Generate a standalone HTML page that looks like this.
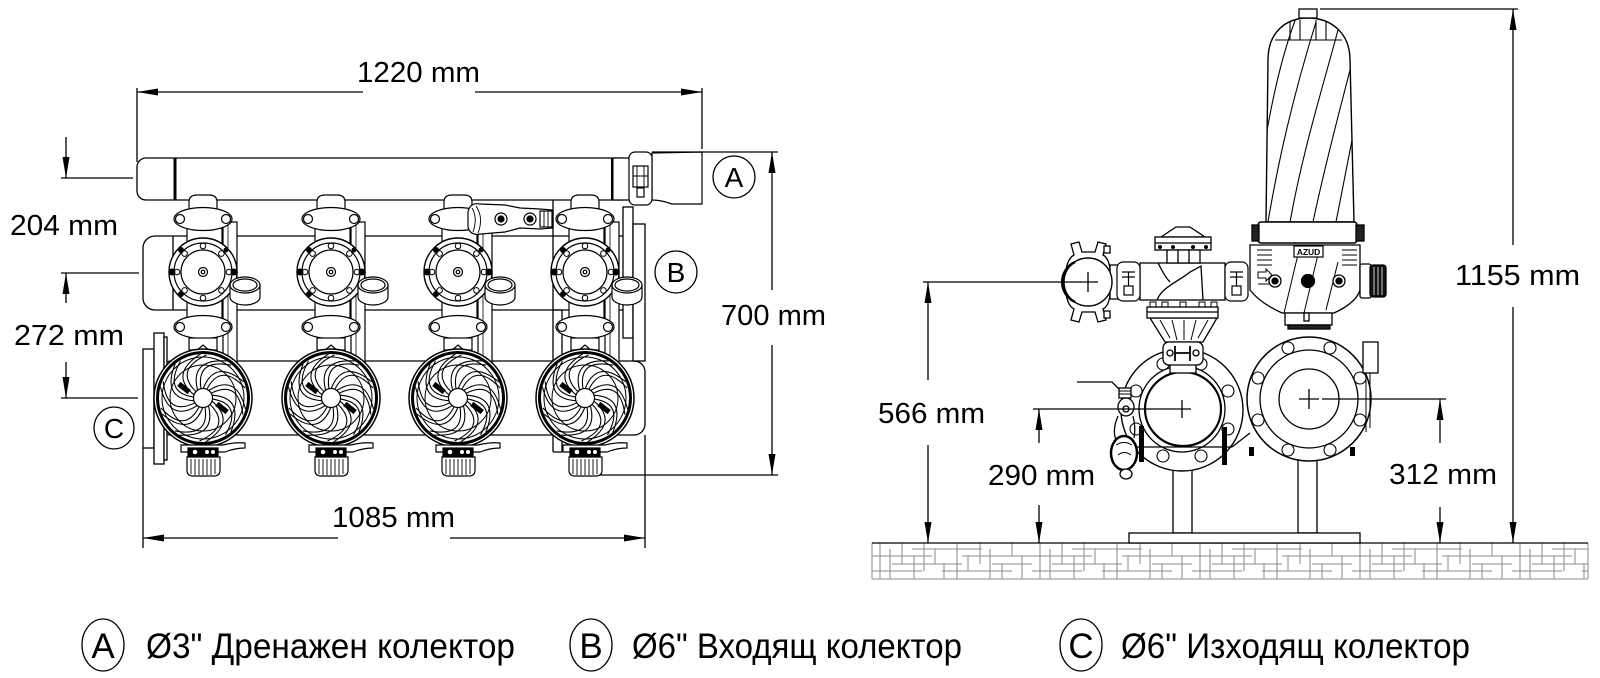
<!DOCTYPE html>
<html><head><meta charset="utf-8"><style>
html,body{margin:0;padding:0;background:#fff;}
svg{display:block;}
text{font-family:"Liberation Sans",Arial,sans-serif;fill:#000;stroke:none;}
</style></head><body>
<svg width="1600" height="678" viewBox="0 0 1600 678" xmlns="http://www.w3.org/2000/svg">
<defs>
 <pattern id="hatch" patternUnits="userSpaceOnUse" x="872" y="543" width="160" height="36">
  <path d="M40,6H110 M0,13H60 M90,13H160 M20,21H90 M120,21H160 M0,28H50 M70,28H140 M8,0V36 M18,6V36 M30,0V21 M42,13V36 M52,0V28 M63,6V21 M72,21V36 M85,0V36 M96,13V28 M108,0V21 M118,6V36 M130,21V36 M140,0V13 M150,13V36" stroke="#8a8a8a" stroke-width="1" fill="none"/>
 </pattern>
 <g id="blade" fill="none" stroke="#000" stroke-width="1.1">
  <path d="M0,-9 Q12,-40 41,-16"/>
  <path d="M4,-9 Q18,-36 42,-10"/>
 </g>
 <g id="head" stroke="#000">
  <circle r="49" fill="#fff" stroke-width="1.5"/>
  <circle r="45.5" fill="none" stroke-width="3"/>
  <circle r="41" fill="none" stroke-width="1"/>
  <circle r="33" fill="none" stroke-width="1"/>
  <use href="#blade"/>
  <use href="#blade" transform="rotate(36)"/>
  <use href="#blade" transform="rotate(72)"/>
  <use href="#blade" transform="rotate(108)"/>
  <use href="#blade" transform="rotate(144)"/>
  <use href="#blade" transform="rotate(180)"/>
  <use href="#blade" transform="rotate(216)"/>
  <use href="#blade" transform="rotate(252)"/>
  <use href="#blade" transform="rotate(288)"/>
  <use href="#blade" transform="rotate(324)"/>
  <circle r="9.5" fill="#fff" stroke-width="1.2"/>
  <rect x="-6" y="-2" width="12" height="4" transform="translate(-19,-10) rotate(38)" fill="#000"/>
  <rect x="-6" y="-2" width="12" height="4" transform="translate(19,10) rotate(38)" fill="#000"/>
 </g>
 <g id="unit" stroke="#000" stroke-width="1.2" fill="#fff">
  <rect x="20" y="222" width="14" height="140"/>
  <line x1="25" y1="222" x2="25" y2="362" stroke-width="0.8"/>
  <rect x="-16" y="226" width="35" height="100"/>
  <path d="M-14,210 L-14,202 Q-14,195 -6,195 L6,195 Q14,195 14,202 L14,210 Z"/>
  <ellipse cx="0" cy="219" rx="29" ry="11.5"/>
  <circle cx="-23" cy="219" r="4.5"/>
  <circle cx="23" cy="219" r="4.5"/>
  <circle cx="0" cy="272" r="34" stroke-width="1.4"/>
  <circle cx="0" cy="272" r="29"/>
  <circle cx="0" cy="272" r="22"/>
  <g stroke-width="1">
   <circle cx="26" cy="272" r="2.8"/><circle cx="18.4" cy="290.4" r="2.8"/><circle cx="0" cy="298" r="2.8"/><circle cx="-18.4" cy="290.4" r="2.8"/>
   <circle cx="-26" cy="272" r="2.8"/><circle cx="-18.4" cy="253.6" r="2.8"/><circle cx="0" cy="246" r="2.8"/><circle cx="18.4" cy="253.6" r="2.8"/>
  </g>
  <g fill="#000" stroke="none">
   <circle cx="-31" cy="272" r="3.5"/><circle cx="31" cy="272" r="3.5"/>
   <circle cx="-22" cy="250" r="3"/><circle cx="-22" cy="294" r="3"/><circle cx="23" cy="250" r="2.5"/>
  </g>
  <circle cx="0" cy="272" r="4.5"/>
  <circle cx="0" cy="272" r="1.8"/>
  <path d="M27,285 L27,297 A15,8 0 0 0 57,297 L57,285"/>
  <ellipse cx="42" cy="285" rx="15" ry="8"/>
  <ellipse cx="42" cy="285" rx="12" ry="6"/>
  <ellipse cx="0" cy="327" rx="29" ry="11.5"/>
  <circle cx="-23" cy="327" r="4.5"/>
  <circle cx="23" cy="327" r="4.5"/>
  <rect x="-14" y="338" width="28" height="12"/>
  <path d="M-7,351 L0,345 L7,351" fill="none"/>
  <use href="#head" transform="translate(0,398)"/>
  <path d="M-22,445 L20,445 Q32,442 42,443 L42,448 Q32,448 22,452 L-22,452 Z"/>
  <rect x="-15" y="448" width="30" height="9" fill="#000"/>
  <circle cx="-8" cy="452" r="2.3" fill="#fff" stroke="none"/>
  <circle cx="4" cy="452" r="2" fill="#fff" stroke="none"/>
  <circle cx="10" cy="452" r="2" fill="#fff" stroke="none"/>
  <path d="M-16,457 L17,457 L17,470 Q17,476 11,476 L-10,476 Q-16,476 -16,470 Z"/>
  <path d="M-12,459V474 M-8,459V475 M-4,459V475 M0,459V475 M4,459V475 M8,459V475 M12,459V474" fill="none" stroke-width="0.9"/>
 </g>
 <g id="coup" stroke="#000" stroke-width="1.2" fill="#fff">
  <rect x="0" y="0" width="23" height="39" rx="6"/>
  <path d="M5,10H18 M5,15H18 M11.5,10V26" fill="none"/>
  <rect x="7" y="24" width="9" height="9"/>
 </g>
</defs>

<!-- ================= LEFT VIEW ================= -->
<g stroke="#000" stroke-width="1.3" fill="#fff">
 <!-- pipe A -->
 <rect x="137" y="158" width="495" height="42" rx="9"/>
 <rect x="173.5" y="158" width="3" height="42" fill="#000" stroke="none"/>
 <rect x="611" y="158" width="2.5" height="42" fill="#000" stroke="none"/>
 <!-- pipe B -->
 <rect x="143" y="236" width="490" height="74" rx="12"/>
 <line x1="173" y1="236" x2="173" y2="310"/>
 <!-- pipe C -->
 <rect x="160" y="361" width="485" height="74" rx="11"/>
 <rect x="143" y="349" width="11" height="99"/>
 <rect x="154" y="333" width="10" height="131"/>
 <rect x="164" y="337" width="3" height="123"/>
 <!-- right flange of B -->
 <rect x="623" y="207" width="10" height="131"/>
 <rect x="633" y="224" width="12" height="137"/>
 <!-- frame behind unit 4 -->
 <path d="M553,200V452 M562,310V452 M553,452H562 M553,310H562" fill="none"/>
</g>

<use href="#unit" transform="translate(203,0)"/>
<use href="#unit" transform="translate(331,0)"/>
<use href="#unit" transform="translate(458,0)"/>
<use href="#unit" transform="translate(585,0)"/>

<g stroke="#000" stroke-width="1.2" fill="#fff">
 <!-- 3-way hydraulic valve -->
 <path d="M480,204 Q470,202 468,212 L468,227 Q470,236 481,234 L505,232 L520,228 L540,229 L553,228 L553,210 L540,209 L520,208 L505,205 Z"/>
 <path d="M472,208 Q478,218 473,232 M476,206 Q484,218 478,233" fill="none" stroke-width="0.9"/>
 <circle cx="501" cy="219" r="6"/><circle cx="501" cy="219" r="3" fill="#000"/>
 <circle cx="530" cy="219" r="6"/><circle cx="530" cy="219" r="3" fill="#000"/>
 <rect x="540" y="211" width="12" height="16"/>
 <path d="M544,211V227 M548,211V227" fill="none" stroke-width="0.9"/>
 <!-- coupling & reducer of pipe A -->
 <rect x="613.5" y="158" width="16" height="42" stroke="none"/>
 <line x1="613" y1="158" x2="630" y2="158"/>
 <line x1="613" y1="200" x2="630" y2="200"/>
 <path d="M652,153 L702,152 L702,204 L672,204 Q661,200 652,200 Z"/>
 <rect x="629" y="152" width="23" height="53" rx="6"/>
 <rect x="633" y="166" width="15" height="21"/>
 <path d="M637,166V187 M644,166V187 M633,176H648" fill="none" stroke-width="0.9"/>
 <rect x="637" y="188" width="7" height="9"/>
</g>

<!-- left view dimensions -->
<g stroke="#000" stroke-width="1.3" fill="none">
 <path d="M137,88V162 M702,88V149 M137,92H363 M475,92H702"/>
 <path d="M652,152H778 M772,152V290 M772,345V475 M600,475H778"/>
 <path d="M61,178H133 M66,137V178 M61,273H139 M66,273V303 M61,398H138 M66,362V398"/>
 <path d="M143,448V548 M645,435V548 M143,538H338 M450,538H645"/>
</g>
<g fill="#000" stroke="none">
 <polygon points="137,92 158,88.5 158,95.5"/>
 <polygon points="702,92 681,88.5 681,95.5"/>
 <polygon points="772,152 768.5,173 775.5,173"/>
 <polygon points="772,475 768.5,454 775.5,454"/>
 <polygon points="66,178 62.5,157 69.5,157"/>
 <polygon points="66,273 62.5,294 69.5,294"/>
 <polygon points="66,398 62.5,377 69.5,377"/>
 <polygon points="143,538 164,534.5 164,541.5"/>
 <polygon points="645,538 624,534.5 624,541.5"/>
</g>
<g font-size="29">
 <text x="357" y="82" textLength="123" lengthAdjust="spacingAndGlyphs">1220 mm</text>
 <text x="10" y="235" textLength="108" lengthAdjust="spacingAndGlyphs">204 mm</text>
 <text x="14" y="345" textLength="110" lengthAdjust="spacingAndGlyphs">272 mm</text>
 <text x="721" y="325" textLength="105" lengthAdjust="spacingAndGlyphs">700 mm</text>
 <text x="332" y="527" textLength="123" lengthAdjust="spacingAndGlyphs">1085 mm</text>
</g>
<g stroke="#000" stroke-width="1.3" fill="none">
 <circle cx="734" cy="177" r="21"/>
 <circle cx="676" cy="272" r="21"/>
 <ellipse cx="114" cy="428" rx="20" ry="21"/>
</g>
<g font-size="28" text-anchor="middle">
 <text x="734" y="187">A</text>
 <text x="676" y="282">B</text>
 <text x="114" y="438">C</text>
</g>

<!-- ================= RIGHT VIEW ================= -->
<rect x="872" y="543" width="716" height="36" fill="url(#hatch)"/>
<g stroke="#8a8a8a" stroke-width="1" fill="none">
 <path d="M872,543V579 M872,579H1588 M1588,543V579"/>
</g>
<g stroke="#000" stroke-width="1.3" fill="#fff">
 <line x1="872" y1="543" x2="1588" y2="543"/>
 <rect x="1173" y="440" width="19" height="93"/>
 <rect x="1298" y="455" width="19" height="78"/>
 <rect x="1129" y="533" width="231" height="10"/>

 <!-- right big flange -->
 <circle cx="1309" cy="399" r="62" stroke-width="1.5"/>
 <circle cx="1309" cy="399" r="49"/>
 <circle cx="1309" cy="399" r="30"/>
 <g stroke-width="1.1">
  <circle cx="1330" cy="450" r="6"/><circle cx="1360" cy="420" r="6"/><circle cx="1360" cy="378" r="6"/><circle cx="1330" cy="348" r="6"/>
  <circle cx="1288" cy="348" r="6"/><circle cx="1258" cy="378" r="6"/><circle cx="1258" cy="420" r="6"/><circle cx="1288" cy="450" r="6"/>
 </g>
 <rect x="1363" y="342" width="15" height="31"/>
 <path d="M1366,373V432 M1370,373V428" fill="none" stroke-width="1"/>
 <rect x="1249" y="447" width="5" height="9" fill="#000" stroke="none"/>
 <rect x="1350" y="447" width="5" height="9" fill="#000" stroke="none"/>

 <!-- butterfly valve (outlet) -->
 <path d="M1232,447 L1250,433" fill="none"/>
 <circle cx="1182" cy="410" r="61" stroke-width="1.4"/>
 <g stroke-width="1.1">
  <circle cx="1201" cy="456" r="6"/><circle cx="1228" cy="429" r="6"/><circle cx="1228" cy="391" r="6"/><circle cx="1201" cy="364" r="6"/>
  <circle cx="1163" cy="364" r="6"/><circle cx="1136" cy="391" r="6"/><circle cx="1136" cy="429" r="6"/><circle cx="1163" cy="456" r="6"/>
 </g>
 <circle cx="1182" cy="409" r="43"/>
 <ellipse cx="1183" cy="409" rx="38" ry="37" stroke-width="2.2"/>
 <rect x="1170" y="363" width="26" height="10"/>
 <path d="M1128,447 H1232" fill="none"/>
 <rect x="1139" y="426" width="5" height="36" fill="#000" stroke="none"/>
 <rect x="1222" y="427" width="5" height="38" fill="#000" stroke="none"/>
 <!-- drain/lever on left -->
 <path d="M1077,382 L1112,382 L1122,392" fill="none"/>
 <rect x="1119" y="388" width="12" height="10"/>
 <path d="M1119,391H1131 M1119,394H1131" fill="none" stroke-width="0.9"/>
 <ellipse cx="1126" cy="407" rx="8" ry="9"/>
 <circle cx="1126" cy="409" r="3"/>
 <path d="M1118,416 Q1112,430 1116,440 M1133,416 Q1136,428 1134,438" fill="none"/>
 <ellipse cx="1124" cy="453" rx="13" ry="17" stroke-width="2.5"/>
 <path d="M1116,445 Q1124,440 1132,445 M1118,455 Q1124,450 1131,455" fill="none" stroke-width="1"/>
 <ellipse cx="1126" cy="474" rx="6" ry="5"/>

 <!-- neck / coupling between control valve and butterfly -->
 <path d="M1150,318 L1217,318 L1203,342 L1165,342 Z"/>
 <path d="M1160,320 L1170,338 M1172,320 L1177,340 M1184,320 L1184,340 M1196,320 L1191,340 M1208,320 L1198,338" fill="none" stroke-width="1"/>
 <rect x="1163" y="342" width="40" height="23" rx="6"/>
 <path d="M1175,346V361 M1190,346V361 M1175,353H1190" fill="none" stroke-width="1.8"/>
 <circle cx="1170" cy="353" r="3"/><circle cx="1196" cy="353" r="3"/>

 <!-- filter housing head -->
 <path d="M1250,245 L1360,245 L1360,290 Q1356,303 1334,313 L1282,313 Q1260,303 1250,290 Z"/>
 <path d="M1257,250H1272 M1257,255H1272 M1257,260H1272 M1257,265H1272 M1342,250H1357 M1342,255H1357 M1342,260H1357 M1342,265H1357" fill="none" stroke-width="1"/>
 <path d="M1284,313 L1300,246 M1304,313 L1320,246 M1326,310 L1338,262" fill="none" stroke-width="1"/>
 <path d="M1258,272 L1266,272 L1266,269 L1272,275 L1266,281 L1266,278 L1258,278 Z" stroke-width="1"/>
 <path d="M1258,284H1270" fill="none" stroke-width="1"/>
 <circle cx="1275" cy="281" r="6"/><circle cx="1275" cy="281" r="3" fill="#000"/>
 <circle cx="1339" cy="281" r="6"/><circle cx="1339" cy="281" r="3" fill="#000"/>
 <circle cx="1308" cy="281" r="6.5" fill="#000"/>
 <rect x="1360" y="264" width="11" height="34" rx="2"/>
 <rect x="1370" y="265" width="16" height="32" rx="3" fill="#111"/>
 <path d="M1374,267V295 M1378,267V295 M1382,267V295" stroke="#fff" stroke-width="0.8" fill="none"/>
 <rect x="1285" y="313" width="47" height="12"/>
 <rect x="1304" y="313" width="5" height="8"/>
 <rect x="1288" y="325" width="42" height="4" fill="#222"/>
 <rect x="1294" y="246" width="29" height="11" fill="#fff" stroke-width="1.2"/>
 <text x="1308.5" y="255" font-size="8.5" text-anchor="middle" font-weight="bold">AZUD</text>

 <!-- filter body -->
 <path id="fb" d="M1266,222 L1268,60 C1268,32 1286,18 1308,18 C1330,18 1350,32 1350,60 L1354,222 Z" stroke-width="1.4"/>
 <clipPath id="fbc"><path d="M1266,222 L1268,60 C1268,32 1286,18 1308,18 C1330,18 1350,32 1350,60 L1354,222 Z"/></clipPath>
 <g clip-path="url(#fbc)" fill="none" stroke-width="1.1">
  <path d="M1268,222 C1280,150 1298,80 1316,22"/>
  <path d="M1290,222 C1303,150 1322,90 1338,30"/>
  <path d="M1313,222 C1326,160 1340,110 1352,62"/>
  <path d="M1336,222 C1342,190 1348,160 1354,130"/>
  <path d="M1262,160 C1270,110 1280,60 1296,18"/>
  <path d="M1275,40 H1342 M1290,22V40 M1300,20V40 M1316,20V40 M1326,22V40"/>
 </g>
 <rect x="1299" y="9" width="18" height="9"/>
 <rect x="1258" y="222" width="99" height="21" rx="3" stroke-width="1.5"/>
 <rect x="1252" y="225" width="7" height="16" fill="#222"/>
 <rect x="1356" y="225" width="8" height="16" fill="#222"/>

 <!-- control valve + couplings -->
 <rect x="1110" y="265" width="8" height="34"/>
 <rect x="1140" y="263" width="85" height="37"/>
 <path d="M1157,300 C1162,287 1178,282 1190,272 L1201,266 L1203,300" fill="none"/>
 <path d="M1158,263 C1162,270 1164,276 1170,282" fill="none"/>
 <path d="M1161,237 L1176,227 L1190,227 L1205,237 Z"/>
 <rect x="1155" y="237" width="56" height="13"/>
 <line x1="1155" y1="243" x2="1211" y2="243"/>
 <rect x="1167" y="250" width="33" height="13"/>
 <path d="M1178,250V263 M1189,250V263" fill="none"/>
 <g fill="#000" stroke="none">
  <circle cx="1160" cy="247" r="2"/><circle cx="1173" cy="247" r="2"/><circle cx="1193" cy="247" r="2"/><circle cx="1206" cy="247" r="2"/>
 </g>
 <g stroke-width="1">
  <rect x="1150" y="302" width="6" height="6"/><rect x="1162" y="302" width="6" height="6"/><rect x="1180" y="302" width="6" height="6"/><rect x="1199" y="302" width="6" height="6"/><rect x="1211" y="302" width="6" height="6"/>
 </g>
 <rect x="1147" y="307" width="71" height="11"/>
 <line x1="1147" y1="312" x2="1218" y2="312"/>
 <use href="#coup" transform="translate(1117,262)"/>
 <use href="#coup" transform="translate(1225,262)"/>

 <!-- inlet groove clamp -->
 <path d="M1066,270 Q1068,258 1074,255 L1071,244 L1079,242 L1082,252 L1095,252 L1098,242 L1106,244 L1103,255 Q1109,258 1110,270 Z"/>
 <path d="M1066,294 Q1068,306 1074,309 L1071,320 L1079,322 L1082,312 L1095,312 L1098,322 L1106,320 L1103,309 Q1109,306 1110,294 Z"/>
 <rect x="1104" y="246" width="6" height="7"/>
 <rect x="1104" y="311" width="6" height="7"/>
 <circle cx="1088" cy="282" r="24" stroke-width="1.4"/>
 <path d="M1075,262 A22,22 0 0 0 1075,302" fill="none" stroke-width="2.5"/>
</g>

<!-- right view dimensions -->
<g stroke="#000" stroke-width="1.3" fill="none">
 <path d="M923,282H1080 M1078,282H1098 M1088,272V292"/>
 <path d="M928,282V380 M928,445V543"/>
 <path d="M1033,409H1173 M1173,409H1191 M1182,400V418"/>
 <path d="M1039,409V443 M1039,505V543"/>
 <path d="M1299,399H1319 M1309,389V409 M1322,399H1446"/>
 <path d="M1440,399V443 M1440,507V543"/>
 <path d="M1320,9H1518 M1513,9V245 M1513,307V543"/>
</g>
<g fill="#000" stroke="none">
 <polygon points="928,282 924.5,303 931.5,303"/>
 <polygon points="928,543 924.5,522 931.5,522"/>
 <polygon points="1039,409 1035.5,430 1042.5,430"/>
 <polygon points="1039,543 1035.5,522 1042.5,522"/>
 <polygon points="1440,399 1436.5,420 1443.5,420"/>
 <polygon points="1440,543 1436.5,522 1443.5,522"/>
 <polygon points="1513,9 1509.5,30 1516.5,30"/>
 <polygon points="1513,543 1509.5,522 1516.5,522"/>
</g>
<g font-size="29">
 <text x="878" y="423" textLength="107" lengthAdjust="spacingAndGlyphs">566 mm</text>
 <text x="988" y="485" textLength="107" lengthAdjust="spacingAndGlyphs">290 mm</text>
 <text x="1389" y="484" textLength="108" lengthAdjust="spacingAndGlyphs">312 mm</text>
 <text x="1455" y="285" textLength="125" lengthAdjust="spacingAndGlyphs">1155 mm</text>
</g>

<!-- ================= LEGEND ================= -->
<g stroke="#000" stroke-width="1.3" fill="none">
 <ellipse cx="103" cy="645" rx="21" ry="26"/>
 <ellipse cx="591" cy="645" rx="21" ry="26"/>
 <ellipse cx="1081" cy="645" rx="21" ry="26"/>
</g>
<g font-size="35">
 <text x="103" y="658" text-anchor="middle">A</text>
 <text x="591" y="658" text-anchor="middle">B</text>
 <text x="1081" y="658" text-anchor="middle">C</text>
 <text x="146" y="658" textLength="369" lengthAdjust="spacingAndGlyphs">Ø3" Дренажен колектор</text>
 <text x="632" y="658" textLength="330" lengthAdjust="spacingAndGlyphs">Ø6" Входящ колектор</text>
 <text x="1121" y="658" textLength="349" lengthAdjust="spacingAndGlyphs">Ø6" Изходящ колектор</text>
</g>
</svg>
</body></html>
